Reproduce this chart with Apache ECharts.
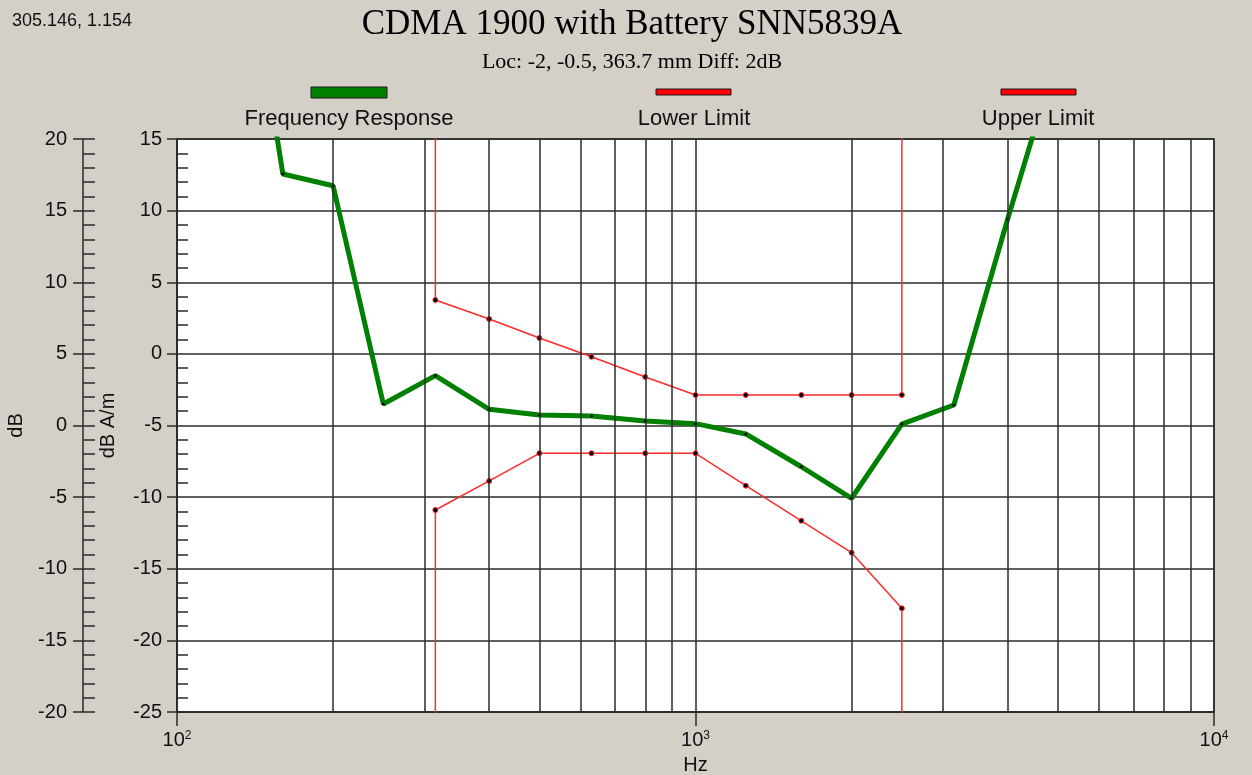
<!DOCTYPE html>
<html>
<head>
<meta charset="utf-8">
<script src="https://cdn.jsdelivr.net/npm/echarts@6/dist/echarts.min.js"></script>
<style>
html, body { margin: 0; padding: 0; background: #d4d0c8; }
#main { width: 1252px; height: 775px; }
</style>
</head>
<body>
<div id="main"></div>
<script>
// measured response, 1/3 octave bands (first and last points lie off the top of the plot)
var freqs = [125, 160, 200, 250, 315, 400, 500, 630, 800, 1000, 1250, 1600, 2000, 2500, 3150, 4000, 5000];
var response = [37, 12.56, 11.74, -3.5, -1.52, -3.87, -4.27, -4.34, -4.69, -4.87, -5.59, -7.88, -10.08, -4.9, -3.57, 9.42, 21];

// limit masks
var limitFreqs = [315, 400, 500, 630, 800, 1000, 1250, 1600, 2000, 2500];
var upperLimit = [3.76, 2.43, 1.11, -0.2, -1.61, -2.87, -2.87, -2.87, -2.87, -2.87];
var lowerLimit = [-10.9, -8.87, -6.94, -6.94, -6.94, -6.94, -9.2, -11.65, -13.88, -17.76];
var limitEdge = 40; // the masks run off the plot at both ends

// vertical grid lines between the decades
var gridFreqs = [200, 300, 400, 500, 600, 700, 800, 900, 2000, 3000, 4000, 5000, 6000, 7000, 8000, 9000];

var chart = echarts.init(document.getElementById('main'));

function limitData(vals, edge) {
    var d = [{ value: [limitFreqs[0], edge], symbol: 'none' }];
    for (var i = 0; i < limitFreqs.length; i++) d.push([limitFreqs[i], vals[i]]);
    d.push({ value: [limitFreqs[limitFreqs.length - 1], edge], symbol: 'none' });
    return d;
}

var respData = [];
for (var i = 0; i < freqs.length; i++) respData.push([freqs[i], response[i]]);

var sans = 'Liberation Sans';
var serif = 'Liberation Serif';
var ink = '#111';
var gridInk = '#2b2b2b';

function outerAxis(extra) {
    var a = {
        type: 'value', position: 'left', offset: 94,
        min: -20, max: 20, interval: 5,
        axisLine: { show: true, lineStyle: { color: gridInk, width: 1 } },
        splitLine: { show: false },
        axisLabel: { show: false }
    };
    for (var k in extra) a[k] = extra[k];
    return a;
}

var option = {
    backgroundColor: '#d4d0c8',
    animation: false,
    title: [
        { text: 'CDMA 1900 with Battery SNN5839A', left: 632, top: 7, padding: 0, textAlign: 'center',
          textStyle: { fontFamily: serif, fontSize: 35, fontWeight: 'normal', color: '#000' } },
        { text: 'Loc: -2, -0.5, 363.7 mm Diff: 2dB', left: 632, top: 51, padding: 0, textAlign: 'center',
          textStyle: { fontFamily: serif, fontSize: 22, fontWeight: 'normal', color: '#000' } },
        { text: '305.146, 1.154', left: 12, top: 12, padding: 0,
          textStyle: { fontFamily: sans, fontSize: 18, fontWeight: 'normal', color: ink } }
    ],
    graphic: [
        { type: 'rect', shape: { x: 311, y: 87, width: 76, height: 11 },
          style: { fill: '#008000', stroke: '#1a1a1a', lineWidth: 1 } },
        { type: 'rect', shape: { x: 656, y: 89, width: 75, height: 6 },
          style: { fill: '#ff0000', stroke: '#1a1a1a', lineWidth: 1 } },
        { type: 'rect', shape: { x: 1001, y: 89, width: 75, height: 6 },
          style: { fill: '#ff0000', stroke: '#1a1a1a', lineWidth: 1 } },
        { type: 'text', x: 349, y: 119, style: { text: 'Frequency Response', x: 0, y: 0, align: 'center', verticalAlign: 'middle', font: '22px "Liberation Sans"', fill: ink } },
        { type: 'text', x: 694, y: 119, style: { text: 'Lower Limit', x: 0, y: 0, align: 'center', verticalAlign: 'middle', font: '22px "Liberation Sans"', fill: ink } },
        { type: 'text', x: 1038, y: 119, style: { text: 'Upper Limit', x: 0, y: 0, align: 'center', verticalAlign: 'middle', font: '22px "Liberation Sans"', fill: ink } }
    ],
    grid: {
        left: 177, right: 38, top: 139, bottom: 63,
        outerBoundsMode: 'none', containLabel: false,
        show: true, backgroundColor: '#ffffff', borderColor: gridInk, borderWidth: 1.5
    },
    xAxis: {
        type: 'log', logBase: 10, min: 100, max: 10000,
        name: 'Hz', nameLocation: 'middle', nameGap: 43,
        nameTextStyle: { fontFamily: sans, fontSize: 20, color: ink },
        axisLine: { show: true, onZero: false, lineStyle: { color: gridInk, width: 1.5 } },
        axisTick: { show: true, length: 14, lineStyle: { color: gridInk, width: 1.5 } },
        splitLine: { show: true, lineStyle: { color: gridInk, width: 1.5 } },
        axisLabel: {
            margin: 18,
            formatter: function (v) {
                return '{b|10}{s|' + Math.round(Math.log10(v)) + '}';
            },
            rich: {
                b: { fontFamily: sans, fontSize: 20, color: ink },
                s: { fontFamily: sans, fontSize: 12, color: ink, verticalAlign: 'top', padding: [0, 0, 8, 0] }
            }
        }
    },
    yAxis: [
        {
            type: 'value', position: 'left', min: -25, max: 15, interval: 5,
            name: 'dB A/m', nameLocation: 'middle', nameGap: 59,
            nameTextStyle: { fontFamily: sans, fontSize: 20, color: ink },
            axisLine: { show: true, onZero: false, lineStyle: { color: gridInk, width: 1.5 } },
            axisTick: { show: true, length: 10, lineStyle: { color: gridInk, width: 1.5 } },
            splitLine: { show: true, lineStyle: { color: gridInk, width: 1.5 } },
            axisLabel: { margin: 15, fontFamily: sans, fontSize: 20, color: ink }
        },
        {
            type: 'value', position: 'left', min: -25, max: 15, interval: 5,
            axisLine: { show: false },
            axisTick: { show: false, inside: true },
            minorTick: { show: true, splitNumber: 5, length: 11, lineStyle: { color: gridInk, width: 1.5 } },
            splitLine: { show: false },
            axisLabel: { show: false }
        },
        outerAxis({
            name: 'dB', nameLocation: 'middle', nameGap: 57,
            nameTextStyle: { fontFamily: sans, fontSize: 20, color: ink },
            axisLine: { show: true, lineStyle: { color: gridInk, width: 1.5 } },
            axisTick: { show: true, inside: true, length: 12, lineStyle: { color: gridInk, width: 1.5 } },
            minorTick: { show: true, splitNumber: 5, length: 12, lineStyle: { color: gridInk, width: 1.5 } },
            axisLabel: { show: true, margin: 16, fontFamily: sans, fontSize: 20, color: ink }
        }),
        outerAxis({
            axisLine: { show: false },
            axisTick: { show: true, length: 10, lineStyle: { color: gridInk, width: 1.5 } }
        })
    ],
    series: [
        {
            name: 'grid', type: 'line', data: [], silent: true, z: 1,
            markLine: {
                silent: true, symbol: 'none', animation: false,
                label: { show: false },
                lineStyle: { color: gridInk, width: 1.5, type: 'solid' },
                data: gridFreqs.map(function (f) { return { xAxis: f }; })
            }
        },
        {
            name: 'Upper Limit', type: 'line', yAxisIndex: 0, z: 3,
            data: limitData(upperLimit, limitEdge),
            symbol: 'circle', symbolSize: 5,
            itemStyle: { color: '#000', borderColor: '#ff2a2a', borderWidth: 1 },
            lineStyle: { color: '#ff2a2a', width: 1.5 }
        },
        {
            name: 'Lower Limit', type: 'line', yAxisIndex: 0, z: 3,
            data: limitData(lowerLimit, -limitEdge),
            symbol: 'circle', symbolSize: 5,
            itemStyle: { color: '#000', borderColor: '#ff2a2a', borderWidth: 1 },
            lineStyle: { color: '#ff2a2a', width: 1.5 }
        },
        {
            name: 'Frequency Response', type: 'line', yAxisIndex: 0, z: 4,
            data: respData,
            symbol: 'circle', symbolSize: 3,
            itemStyle: { color: '#000', borderWidth: 0 },
            lineStyle: { color: '#008000', width: 5 }
        }
    ]
};

chart.setOption(option);
</script>
</body>
</html>
